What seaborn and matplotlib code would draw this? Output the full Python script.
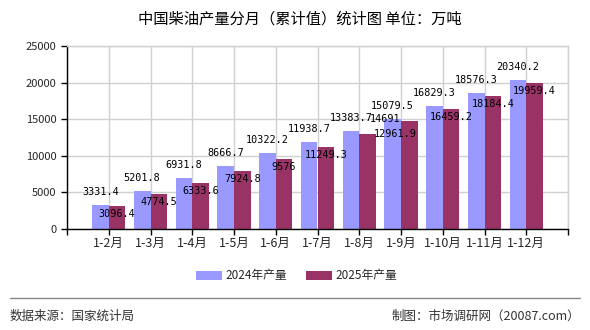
import matplotlib
matplotlib.use('Agg')
import matplotlib.pyplot as plt
import seaborn as sns
import pandas as pd
from matplotlib.lines import Line2D
from matplotlib.patches import Patch

months = ['1-2月', '1-3月', '1-4月', '1-5月', '1-6月', '1-7月',
          '1-8月', '1-9月', '1-10月', '1-11月', '1-12月']
prod_2024 = [3331.4, 5201.8, 6931.8, 8666.7, 10322.2, 11938.7,
             13383.7, 15079.5, 16829.3, 18576.3, 20340.2]
prod_2025 = [3096.4, 4774.5, 6333.6, 7924.8, 9576, 11249.3,
             12961.9, 14691, 16459.2, 18184.4, 19959.4]
labels_2025 = ['3096.4', '4774.5', '6333.6', '7924.8', '9576', '11249.3',
               '12961.9', '14691', '16459.2', '18184.4', '19959.4']
labels_2024 = ['3331.4', '5201.8', '6931.8', '8666.7', '10322.2', '11938.7',
               '13383.7', '15079.5', '16829.3', '18576.3', '20340.2']
series = ['2024年产量', '2025年产量']
colors = ['#9999ff', '#993366']

df = pd.DataFrame({
    'month': months * 2,
    'value': prod_2024 + prod_2025,
    'series': [series[0]] * len(months) + [series[1]] * len(months),
})

sns.set_style('white')
plt.rcParams['font.family'] = ['Noto Sans CJK SC', 'DejaVu Sans']

fig = plt.figure(figsize=(5.9, 3.3), dpi=100)
ax = fig.add_axes([67 / 590, 1 - 229 / 330, 501 / 590, 183 / 330])

sns.barplot(data=df, x='month', y='value', hue='series', palette=colors,
            order=months, hue_order=series, width=0.8, saturation=1,
            linewidth=0, legend=False, ax=ax)

ax.set_xlim(-1, len(months))
ax.set_ylim(0, 25000)
ax.set_yticks(range(0, 25001, 5000))
ax.set_xticks(range(-1, len(months) + 1))
ax.set_xticklabels([''] + months + [''], fontsize=9)
ax.tick_params(axis='y', labelsize=8, length=4, width=1, color='black', direction='out', left=True)
ax.tick_params(axis='x', length=4, width=1, color='black', direction='out', bottom=True, pad=2)
ax.set_xlabel('')
ax.set_ylabel('')
ax.grid(True, color='#d0d0d0', linewidth=1)
ax.set_axisbelow(True)
for s in ['left', 'bottom']:
    ax.spines[s].set_color('black')
    ax.spines[s].set_linewidth(1)
for s in ['top', 'right']:
    ax.spines[s].set_color('#d0d0d0')
    ax.spines[s].set_linewidth(1)

# label nudges (pixels) for a couple of 2025 labels that were moved in the original
nudge_2025 = {6: (28, 8), 7: (-24, 10)}

mono = 'DejaVu Sans Mono'
c24, c25 = ax.containers[0], ax.containers[1]
for i, bar in enumerate(c24):
    ax.annotate(labels_2024[i], (bar.get_x() + bar.get_width() / 2, bar.get_height()),
                xytext=(0, 13), textcoords='offset pixels', ha='center', va='center',
                fontsize=7.3, family=mono, color='black')
for i, bar in enumerate(c25):
    dx, dy = nudge_2025.get(i, (0, 0))
    ax.annotate(labels_2025[i], (bar.get_x() + bar.get_width() / 2, bar.get_height()),
                xytext=(dx, -8 + dy), textcoords='offset pixels', ha='center', va='center',
                fontsize=7.3, family=mono, color='black')

fig.text(0.508, 1 - 19 / 330, '中国柴油产量分月（累计值）统计图 单位：万吨',
         ha='center', va='center', fontsize=11, color='black')

handles = [Patch(facecolor=c, edgecolor='none') for c in colors]
fig.legend(handles, series, loc='center', bbox_to_anchor=(0.503, 1 - 276 / 330),
           ncol=2, frameon=False, fontsize=8.5, handlelength=2.2, handleheight=0.7,
           handletextpad=0.3, columnspacing=1.6)

fig.add_artist(Line2D([10 / 590, 580 / 590], [1 - 298 / 330] * 2, color='#888888', linewidth=1))
fig.text(10 / 590, 1 - 316 / 330, '数据来源：国家统计局', ha='left', va='center',
         fontsize=9, color='#333333')
fig.text(580 / 590, 1 - 316 / 330, '制图：市场调研网（20087.com）', ha='right', va='center',
         fontsize=9, color='#333333')

fig.savefig('out.png', dpi=100)
